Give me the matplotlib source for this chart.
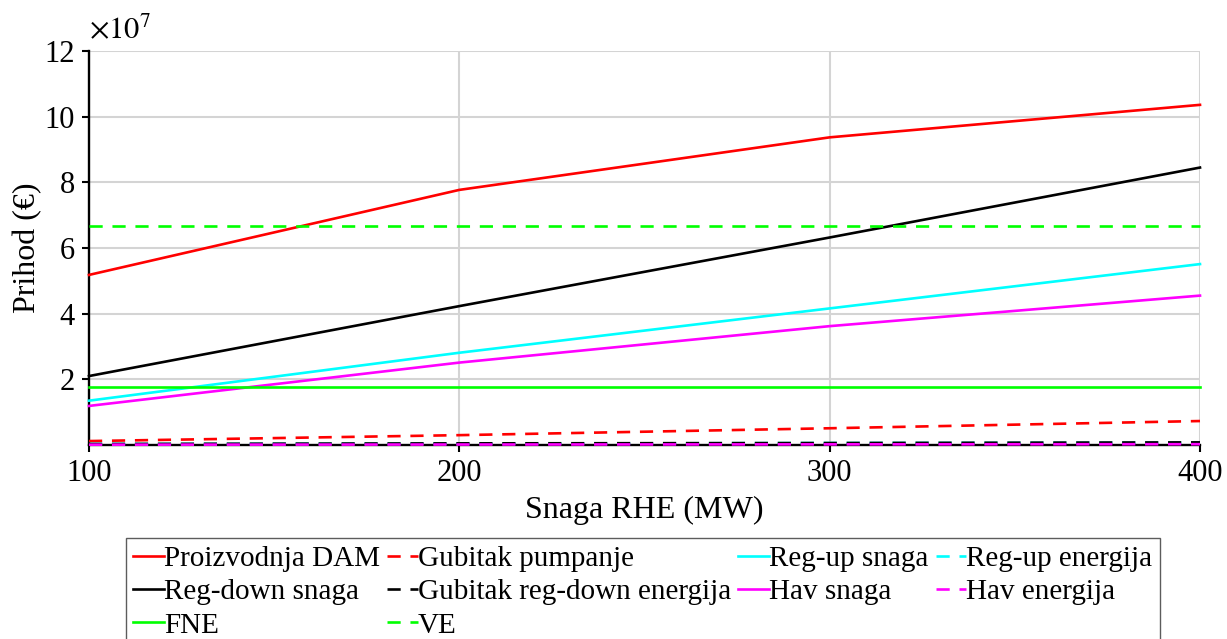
import matplotlib
matplotlib.use("Agg")
import matplotlib.pyplot as plt
from matplotlib.ticker import FuncFormatter

snaga = [100, 200, 300, 400]

proizvodnja_dam = [5.18e7, 7.77e7, 9.37e7, 10.36e7]
gubitak_pumpanje = [0.12e7, 0.30e7, 0.51e7, 0.73e7]
reg_up_snaga = [1.35e7, 2.81e7, 4.16e7, 5.51e7]
reg_up_energija = [0.03e7, 0.04e7, 0.06e7, 0.07e7]
reg_down_snaga = [2.10e7, 4.23e7, 6.32e7, 8.45e7]
gubitak_reg_down = [0.03e7, 0.05e7, 0.06e7, 0.08e7]
hav_snaga = [1.19e7, 2.51e7, 3.62e7, 4.55e7]
hav_energija = [0.01e7, 0.015e7, 0.02e7, 0.025e7]
fne = [1.76e7, 1.76e7, 1.76e7, 1.76e7]
ve = [6.66e7, 6.66e7, 6.66e7, 6.66e7]

y_ticks = [2e7, 4e7, 6e7, 8e7, 10e7, 12e7]
x_ticks = [100, 200, 300, 400]

plt.rcParams.update({
    "font.family": ["Liberation Serif", "DejaVu Serif"],
    "mathtext.fontset": "stix",
    "font.size": 22,
})

fig = plt.figure(figsize=(12.27, 6.39), dpi=100)
ax = fig.add_axes([89 / 1227, 1 - 445 / 639, (1200 - 89) / 1227, (445 - 51) / 639])

lw = 1.9
dash = (0, (5, 3.7))
series = [
    ("Proizvodnja DAM", proizvodnja_dam, "#ff0000", "-"),
    ("Gubitak pumpanje", gubitak_pumpanje, "#ff0000", dash),
    ("Reg-up snaga", reg_up_snaga, "#00ffff", "-"),
    ("Reg-up energija", reg_up_energija, "#00ffff", dash),
    ("Reg-down snaga", reg_down_snaga, "#000000", "-"),
    ("Gubitak reg-down energija", gubitak_reg_down, "#000000", dash),
    ("Hav snaga", hav_snaga, "#ff00ff", "-"),
    ("Hav energija", hav_energija, "#ff00ff", dash),
    ("FNE", fne, "#00ff00", "-"),
    ("VE", ve, "#00ff00", dash),
]

handles = {}
for label, vals, color, ls in series:
    (h,) = ax.plot(snaga, vals, color=color, linestyle=ls, linewidth=lw,
                   label=label, clip_on=False, zorder=3)
    handles[label] = h

ax.set_xlim(100, 400)
ax.set_ylim(0, 12e7)
ax.set_xticks(x_ticks)
ax.set_yticks(y_ticks)
ax.yaxis.set_major_formatter(FuncFormatter(lambda v, p: f"{v / 1e7:g}"))
ax.grid(True, color="#d4d4d4", linewidth=1.5)
ax.set_axisbelow(True)
for s in ["top", "right"]:
    ax.spines[s].set_visible(False)
for s in ["left", "bottom"]:
    ax.spines[s].set_linewidth(1.7)
    ax.spines[s].set_zorder(2)
ax.tick_params(direction="out", length=5, width=1.5, labelsize=22, pad=5)

ax.text(0.0, 1.015, r"$\times 10^7$", transform=ax.transAxes,
        fontsize=22, ha="left", va="bottom")
ax.set_ylabel("Prihod (€)", fontsize=23, labelpad=2)
ax.set_xlabel("Snaga RHE (MW)", fontsize=23, labelpad=6)

order = ["Proizvodnja DAM", "Reg-down snaga", "FNE",
         "Gubitak pumpanje", "Gubitak reg-down energija", "VE",
         "Reg-up snaga", "Hav snaga",
         "Reg-up energija", "Hav energija"]
leg = fig.legend([handles[k] for k in order], order, ncol=4,
                 loc="upper center", bbox_to_anchor=(0.524, 0.158),
                 fontsize=21, frameon=True, fancybox=False, edgecolor="#333333",
                 handlelength=1.05, handletextpad=0.0, columnspacing=0.25,
                 labelspacing=0.24, borderpad=0.25, borderaxespad=0)
leg.get_frame().set_linewidth(1.0)

fig.savefig("out.png", dpi=100)
